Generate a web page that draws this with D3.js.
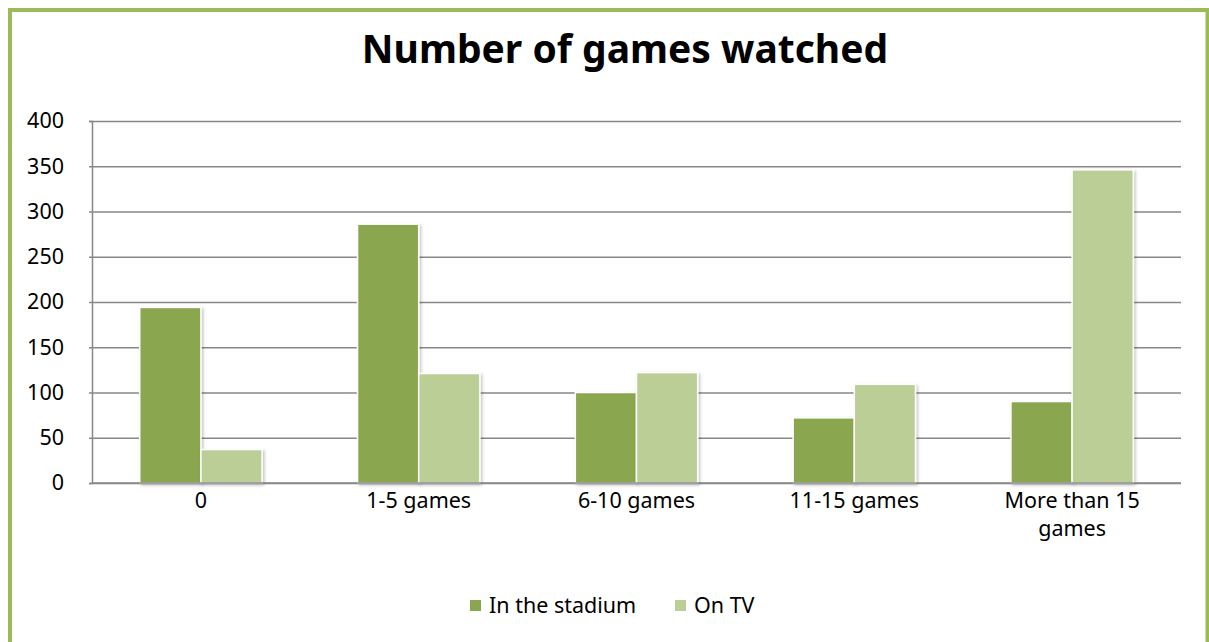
<!DOCTYPE html>
<html><head><meta charset="utf-8">
<script src="https://cdn.jsdelivr.net/npm/d3@7"></script>
<style>html,body{margin:0;padding:0;background:#fff;}svg{display:block;}</style>
</head><body>
<svg id="chart" width="1209" height="642"></svg>
<script>
const categories = ["0", "1-5 games", "6-10 games", "11-15 games", "More than 15 games"];
const seriesNames = ["In the stadium", "On TV"];
const stadium = [194, 286, 100, 72, 90];
const onTV = [37, 121, 122, 109, 346];
const yTicks = [0, 50, 100, 150, 200, 250, 300, 350, 400];
const colors = ["#8AA64F", "#BACE96"];

(function(){
const svg = d3.select("#chart");
const W = 1209, H = 642;
const font = "'Noto Sans', 'Open Sans', sans-serif";
const fs = 21.5;

const defs = svg.append("defs");
const f = defs.append("filter").attr("id","sh").attr("x","-20%").attr("y","-20%").attr("width","150%").attr("height","150%");
f.append("feDropShadow").attr("dx",1.5).attr("dy",1.5).attr("stdDeviation",1.5).attr("flood-color","#000").attr("flood-opacity",0.25);

svg.append("rect").attr("x",0).attr("y",0).attr("width",W).attr("height",H).attr("fill","#fff");
svg.append("rect").attr("x",10).attr("y",10).attr("width",1197.5).attr("height",700)
  .attr("fill","none").attr("stroke","#9BBB59").attr("stroke-width",4);

const pL = 92, pR = 1181, pT = 121, pB = 483;
const x0 = d3.scaleBand().domain(categories).range([pL, pR]).paddingInner(0).paddingOuter(0);
const x1 = d3.scaleBand().domain(seriesNames).range([0, x0.bandwidth()]).paddingInner(0).paddingOuter(0.78);
const y = d3.scaleLinear().domain([0, 400]).range([pB, pT]);

const yAxis = d3.axisLeft(y).tickValues(yTicks).tickSize(-(pR-pL)).tickFormat("");
const gy = svg.append("g").attr("transform", `translate(${pL},0)`).call(yAxis);
gy.select(".domain").remove();
gy.selectAll(".tick line").attr("stroke","#878787").attr("stroke-width",1.5);
const tickAx = d3.axisLeft(y).tickValues(yTicks).tickSize(3).tickFormat(d=>d).tickPadding(25);
const gt = svg.append("g").attr("transform", `translate(${pL},0)`).call(tickAx);
gt.select(".domain").attr("stroke","#878787").attr("stroke-width",1.5);
gt.selectAll(".tick line").attr("stroke","#878787").attr("stroke-width",1.5);
gt.selectAll(".tick text").attr("font-family",font).attr("font-size",fs).attr("fill","#000");

const data = categories.map((c,i)=>({c, vals:[{s:seriesNames[0],v:stadium[i]},{s:seriesNames[1],v:onTV[i]}]}));
const groups = svg.append("g").selectAll("g").data(data).join("g").attr("transform", d=>`translate(${x0(d.c)},0)`);
groups.selectAll("rect").data(d=>d.vals).join("rect")
  .attr("x", d=>x1(d.s)).attr("width", x1.bandwidth())
  .attr("y", d=>y(d.v)).attr("height", d=>y(0)-y(d.v))
  .attr("fill", (d,i)=>colors[i]).attr("stroke","#fff").attr("stroke-width",1.5)
  .attr("filter","url(#sh)");

svg.append("line").attr("x1",pL).attr("x2",pR).attr("y1",pB).attr("y2",pB)
  .attr("stroke","#878787").attr("stroke-width",1.5);

const xAx = d3.axisBottom(x0).tickSize(0).tickPadding(0);
const gx = svg.append("g").attr("transform",`translate(0,${pB})`).call(xAx);
gx.select(".domain").remove();
gx.selectAll(".tick text").remove();
const labelLines = {"More than 15 games": ["More than 15","games"]};
gx.selectAll(".tick").each(function(d){
  const lines = labelLines[d] || [d];
  const t = d3.select(this).append("text").attr("font-family",font).attr("font-size",fs)
    .attr("fill","#000").attr("text-anchor","middle");
  lines.forEach((l,i)=>t.append("tspan").attr("x",0).attr("y",25+i*28).text(l));
});

svg.append("text").attr("x",625).attr("y",63).attr("text-anchor","middle")
  .attr("font-family",font).attr("font-weight","bold").attr("font-size",39).attr("fill","#000")
  .text("Number of games watched");

const lg = svg.append("g");
const legendX = [470, 675];
seriesNames.forEach((s,i)=>{
  lg.append("rect").attr("x",legendX[i]).attr("y",600).attr("width",11).attr("height",11).attr("fill",colors[i]);
  lg.append("text").attr("x",legendX[i]+19).attr("y",613).attr("font-family",font).attr("font-size",fs)
    .attr("fill","#000").text(s);
});
})();
</script>
</body></html>
